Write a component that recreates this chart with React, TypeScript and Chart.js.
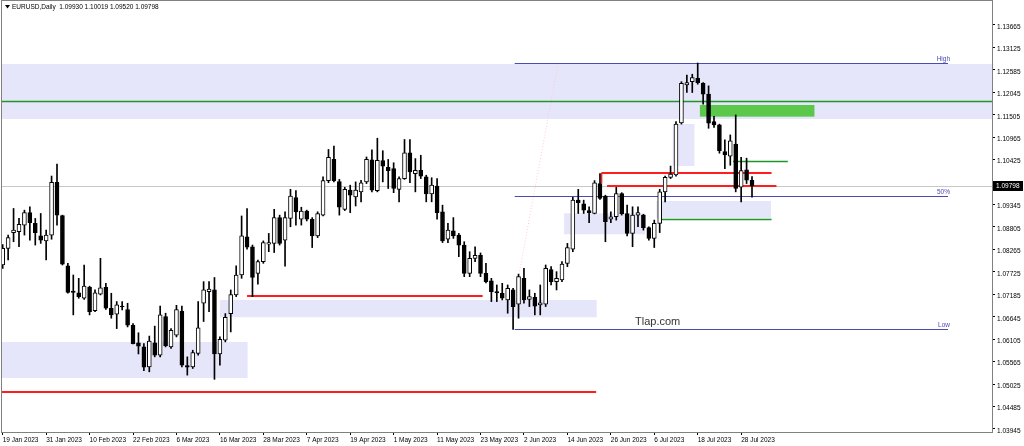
import { useEffect, useRef } from "react";
import { Chart, registerables } from "chart.js";

Chart.register(...registerables);

// x axis: one tick every 8 bars
const tickIdx = [0, 8, 16, 24, 32, 40, 48, 56, 64, 72, 80, 88, 96, 104, 112, 120, 128, 136];
const tickLabels = [
  "19 Jan 2023", "31 Jan 2023", "10 Feb 2023", "22 Feb 2023", "6 Mar 2023", "16 Mar 2023",
  "28 Mar 2023", "7 Apr 2023", "19 Apr 2023", "1 May 2023", "11 May 2023", "23 May 2023",
  "2 Jun 2023", "14 Jun 2023", "26 Jun 2023", "6 Jul 2023", "18 Jul 2023", "28 Jul 2023",
];

const yTicks = [
  1.13665, 1.13125, 1.12585, 1.12045, 1.11505, 1.10965, 1.10425, 1.09885, 1.09345, 1.08805,
  1.08265, 1.07725, 1.07185, 1.06645, 1.06105, 1.05565, 1.05025, 1.04485, 1.03945,
];

// daily EURUSD, 19 Jan 2023 .. 1 Aug 2023
const opens = [
  1.0789, 1.0829, 1.0867, 1.0869, 1.0885, 1.0915, 1.0889, 1.0859, 1.0847, 1.0861,
  1.0988, 1.0908, 1.0787, 1.0726, 1.0722, 1.0709, 1.0736, 1.0679, 1.0719, 1.0735,
  1.0685, 1.0671, 1.0690, 1.0682, 1.0644, 1.0602, 1.0592, 1.0544, 1.0602, 1.0572,
  1.0665, 1.0592, 1.0620, 1.0678, 1.0547, 1.0544, 1.0576, 1.0697, 1.0725, 1.0729,
  1.0575, 1.0608, 1.0672, 1.0717, 1.0765, 1.0857, 1.0833, 1.0769, 1.0797, 1.0839,
  1.0841, 1.0903, 1.0849, 1.0901, 1.0951, 1.0899, 1.0919, 1.0899, 1.0859, 1.0909,
  1.0992, 1.1043, 1.0990, 1.0923, 1.0969, 1.0953, 1.0965, 1.0989, 1.1042, 1.0968,
  1.1040, 1.1024, 1.1021, 1.0971, 1.0997, 1.1059, 1.1009, 1.1017, 1.1001, 1.0960,
  1.0979, 1.0917, 1.0851, 1.0871, 1.0861, 1.0837, 1.0769, 1.0805, 1.0812, 1.0769,
  1.0751, 1.0725, 1.0721, 1.0705, 1.0729, 1.0695, 1.0757, 1.0706, 1.0711, 1.0693,
  1.0695, 1.0778, 1.0749, 1.0753, 1.0793, 1.0827, 1.0945, 1.0936, 1.0920, 1.0913,
  1.0985, 1.0955, 1.0899, 1.0905, 1.0961, 1.0913, 1.0865, 1.0909, 1.0909, 1.0879,
  1.0853, 1.0889, 1.0965, 1.1000, 1.1006, 1.1131, 1.1222, 1.1230, 1.1238, 1.1226,
  1.1200, 1.1134, 1.1126, 1.1062, 1.1051, 1.1080, 1.0976, 1.1018, 1.0993,
];
const highs = [
  1.0838, 1.0861, 1.0925, 1.0901, 1.0921, 1.0929, 1.0901, 1.0913, 1.0873, 1.1003,
  1.1032, 1.0909, 1.0793, 1.0765, 1.0757, 1.0789, 1.0738, 1.0729, 1.0805, 1.0745,
  1.0721, 1.0701, 1.0701, 1.0697, 1.0648, 1.0626, 1.0600, 1.0618, 1.0642, 1.0690,
  1.0673, 1.0636, 1.0692, 1.0690, 1.0568, 1.0584, 1.0701, 1.0749, 1.0749, 1.0759,
  1.0616, 1.0672, 1.0729, 1.0787, 1.0907, 1.0925, 1.0837, 1.0801, 1.0847, 1.0865,
  1.0923, 1.0909, 1.0917, 1.0971, 1.0968, 1.0928, 1.0921, 1.0903, 1.0917, 1.1001,
  1.1067, 1.1075, 1.0995, 1.0976, 1.0981, 1.0989, 1.0993, 1.1049, 1.1066, 1.1094,
  1.1064, 1.1043, 1.1035, 1.1001, 1.1091, 1.1091, 1.1045, 1.1053, 1.1005, 1.0999,
  1.0997, 1.0933, 1.0889, 1.0903, 1.0865, 1.0845, 1.0821, 1.0833, 1.0818, 1.0793,
  1.0757, 1.0741, 1.0745, 1.0741, 1.0733, 1.0767, 1.0781, 1.0729, 1.0721, 1.0741,
  1.0789, 1.0785, 1.0773, 1.0797, 1.0841, 1.0952, 1.0971, 1.0945, 1.0929, 1.0992,
  1.1009, 1.0957, 1.0917, 1.0976, 1.0963, 1.0933, 1.0929, 1.0929, 1.0911, 1.0881,
  1.0897, 1.0971, 1.1003, 1.1027, 1.1134, 1.1230, 1.1246, 1.1248, 1.1275, 1.1228,
  1.1220, 1.1147, 1.1128, 1.1090, 1.1102, 1.1150, 1.1048, 1.1046, 1.10019,
];
const lows = [
  1.0781, 1.0801, 1.0845, 1.0833, 1.0861, 1.0849, 1.0837, 1.0841, 1.0801, 1.0851,
  1.0885, 1.0789, 1.0721, 1.0669, 1.0709, 1.0706, 1.0669, 1.0677, 1.0717, 1.0682,
  1.0661, 1.0636, 1.0681, 1.0640, 1.0599, 1.0575, 1.0535, 1.0532, 1.0568, 1.0568,
  1.0592, 1.0588, 1.0616, 1.0544, 1.0524, 1.0540, 1.0572, 1.0653, 1.0677, 1.0514,
  1.0548, 1.0604, 1.0628, 1.0713, 1.0757, 1.0827, 1.0713, 1.0743, 1.0793, 1.0821,
  1.0819, 1.0837, 1.0786, 1.0881, 1.0885, 1.0885, 1.0895, 1.0831, 1.0855, 1.0907,
  1.0987, 1.0989, 1.0909, 1.0920, 1.0915, 1.0931, 1.0941, 1.0985, 1.0965, 1.0965,
  1.0989, 1.0973, 1.0963, 1.0941, 1.0995, 1.0987, 1.0965, 1.0997, 1.0941, 1.0941,
  1.0899, 1.0843, 1.0843, 1.0853, 1.0809, 1.0761, 1.0761, 1.0797, 1.0761, 1.0746,
  1.0701, 1.0701, 1.0705, 1.0673, 1.0634, 1.0661, 1.0697, 1.0689, 1.0669, 1.0669,
  1.0689, 1.0741, 1.0729, 1.0749, 1.0785, 1.0821, 1.0913, 1.0913, 1.0891, 1.0912,
  1.0947, 1.0845, 1.0891, 1.0897, 1.0909, 1.0859, 1.0833, 1.0881, 1.0873, 1.0849,
  1.0831, 1.0867, 1.0941, 1.0997, 1.1003, 1.1128, 1.1204, 1.1204, 1.1224, 1.1176,
  1.1118, 1.1120, 1.1058, 1.1021, 1.1029, 1.0965, 1.0941, 1.0985, 1.0952,
];
const closes = [
  1.0829, 1.0855, 1.0873, 1.0887, 1.0915, 1.0891, 1.0867, 1.0849, 1.0861, 1.0988,
  1.0909, 1.0791, 1.0723, 1.0723, 1.0713, 1.0738, 1.0677, 1.0722, 1.0734, 1.0685,
  1.0669, 1.0693, 1.0688, 1.0644, 1.0600, 1.0594, 1.0543, 1.0606, 1.0572, 1.0669,
  1.0595, 1.0632, 1.0682, 1.0548, 1.0543, 1.0578, 1.0638, 1.0729, 1.0731, 1.0575,
  1.0610, 1.0663, 1.0718, 1.0765, 1.0859, 1.0832, 1.0759, 1.0797, 1.0843, 1.0843,
  1.0903, 1.0841, 1.0903, 1.0955, 1.0917, 1.0919, 1.0899, 1.0859, 1.0913, 1.0992,
  1.1048, 1.0992, 1.0928, 1.0971, 1.0957, 1.0969, 1.0987, 1.1043, 1.0969, 1.1041,
  1.1027, 1.1016, 1.0973, 1.0997, 1.1059, 1.1013, 1.1017, 1.1003, 1.0960, 1.0981,
  1.0915, 1.0847, 1.0873, 1.0859, 1.0837, 1.0769, 1.0805, 1.0812, 1.0769, 1.0749,
  1.0725, 1.0722, 1.0709, 1.0733, 1.0689, 1.0761, 1.0705, 1.0713, 1.0690, 1.0698,
  1.0781, 1.0749, 1.0757, 1.0791, 1.0831, 1.0945, 1.0939, 1.0921, 1.0915, 1.0987,
  1.0949, 1.0893, 1.0905, 1.0961, 1.0912, 1.0865, 1.0909, 1.0915, 1.0879, 1.0853,
  1.0889, 1.0965, 1.1000, 1.1008, 1.1128, 1.1226, 1.1228, 1.1240, 1.1228, 1.1200,
  1.1130, 1.1126, 1.1064, 1.1054, 1.1088, 1.0973, 1.1016, 1.0993, 1.09798,
];

// chart objects, in bar index / price: [from, to, top, bottom]
const zoneBoxes = [
  [-1, 200, 1.12727, 1.11403],
  [-1, 45.1, 1.06037, 1.05171],
  [40, 109.4, 1.07048, 1.06632],
  [103.4, 118.3, 1.09134, 1.08629],
  [120.4, 141.5, 1.0943, 1.09014],
  [123.4, 127.4, 1.11283, 1.10272],
];
const greenBox = [128.4, 149.5, 1.1174, 1.11459];
// [from, to, price]
const redLevels = [
  [-1, 109.3, 1.04834],
  [45, 88.4, 1.07152],
  [110.3, 141.6, 1.10111],
  [111.3, 142.5, 1.09784],
];
const greenLevels = [
  [-1, 200, 1.11836],
  [134.5, 144.6, 1.10393],
  [121, 141.6, 1.09004],
];
const fibNames = ["High", "50%", "Low"];
const fibPrices = [1.12743, 1.09543, 1.06343];
const fibRange = [94.3, 174.1];
const fibTrend = [94.9, 1.07529, 102.3, 1.12743];
const lastPrice = 1.09798;
const header = "EURUSD,Daily  1.09930 1.10019 1.09520 1.09798";

const FONT = "'Liberation Sans', Arial, sans-serif";

const objectsPlugin = {
  id: "mtObjects",
  beforeDatasetsDraw(chart: any) {
    const { ctx, chartArea: a, scales } = chart;
    const px = (v: number) => scales.x.getPixelForValue(v);
    const py = (v: number) => scales.y.getPixelForValue(v);
    const hline = (x1: number, x2: number, v: number, color: string, w: number) => {
      const y = w % 2 ? Math.round(py(v)) + 0.5 : Math.round(py(v));
      ctx.strokeStyle = color;
      ctx.lineWidth = w;
      ctx.beginPath();
      ctx.moveTo(px(x1), y);
      ctx.lineTo(px(x2), y);
      ctx.stroke();
    };
    ctx.save();
    ctx.beginPath();
    ctx.rect(a.left, a.top, a.width, a.height);
    ctx.clip();

    ctx.fillStyle = "#E6E6FA";
    zoneBoxes.forEach(([x1, x2, t, b]) => {
      ctx.fillRect(px(x1), py(t), px(x2) - px(x1), py(b) - py(t));
    });
    ctx.fillStyle = "#5BC84B";
    ctx.fillRect(px(greenBox[0]), py(greenBox[2]), px(greenBox[1]) - px(greenBox[0]), py(greenBox[3]) - py(greenBox[2]));

    hline(-1, 200, lastPrice, "#C8C8C8", 1);

    // fibo trend line
    ctx.save();
    ctx.setLineDash([1, 2]);
    ctx.strokeStyle = "#FFC8D2";
    ctx.lineWidth = 1;
    ctx.beginPath();
    ctx.moveTo(px(fibTrend[0]), py(fibTrend[1]));
    ctx.lineTo(px(fibTrend[2]), py(fibTrend[3]));
    ctx.stroke();
    ctx.restore();

    fibPrices.forEach((v) => hline(fibRange[0], fibRange[1], v, "#4B4BB4", 1));
    greenLevels.forEach(([x1, x2, v]) => hline(x1, x2, v, "#1E9628", 1.5));
    redLevels.forEach(([x1, x2, v]) => hline(x1, x2, v, "#FF1E1E", 2));
    // short vertical at start of upper red level
    ctx.strokeStyle = "#FF1E1E";
    ctx.lineWidth = 1.5;
    ctx.beginPath();
    ctx.moveTo(px(redLevels[2][0]), py(redLevels[2][2]));
    ctx.lineTo(px(redLevels[2][0]), py(1.09856));
    ctx.stroke();
    ctx.restore();
  },
  afterDraw(chart: any) {
    const { ctx, chartArea: a, scales } = chart;
    const px = (v: number) => scales.x.getPixelForValue(v);
    const py = (v: number) => scales.y.getPixelForValue(v);
    ctx.save();
    // frame
    ctx.strokeStyle = "#808080";
    ctx.lineWidth = 1;
    ctx.strokeRect(a.left - 0.5, a.top - 0.5, a.width + 1, a.height + 1);

    // fibo labels
    ctx.fillStyle = "#4B4BB4";
    ctx.font = `6.5px ${FONT}`;
    ctx.textAlign = "right";
    ctx.textBaseline = "bottom";
    fibNames.forEach((n, i) => ctx.fillText(n, px(fibRange[1]) + 2, py(fibPrices[i]) - 1));

    // watermark
    ctx.fillStyle = "#333";
    ctx.font = `11px ${FONT}`;
    ctx.textAlign = "left";
    ctx.textBaseline = "alphabetic";
    ctx.fillText("Tlap.com", 635, 325);

    // header
    ctx.fillStyle = "#000";
    ctx.beginPath();
    ctx.moveTo(5, 5);
    ctx.lineTo(10, 5);
    ctx.lineTo(7.5, 8.5);
    ctx.closePath();
    ctx.fill();
    ctx.font = `6.5px ${FONT}`;
    ctx.textBaseline = "middle";
    ctx.fillText(header, 12, 7);

    // price marker
    const y = Math.round(py(lastPrice));
    ctx.fillStyle = "#000";
    ctx.fillRect(a.right + 1, y - 5, 30, 10);
    ctx.fillStyle = "#fff";
    ctx.font = `6.5px ${FONT}`;
    ctx.textBaseline = "middle";
    ctx.fillText(lastPrice.toFixed(5), a.right + 4, y + 0.5);
    ctx.restore();
  },
};

export default function App() {
  const canvasRef = useRef<HTMLCanvasElement | null>(null);

  useEffect(() => {
    document.body.style.margin = "0";
    const ctx = canvasRef.current?.getContext("2d");
    if (!ctx) return;

    const wicks = highs.map((h, i) => ({ x: i, y: [lows[i], h] }));
    const bodies = opens.map((o, i) => ({ x: i, y: [o, closes[i]] }));

    const chart = new Chart(ctx, {
      type: "bar",
      data: {
        datasets: [
          {
            data: wicks as any,
            grouped: false,
            maxBarThickness: 1,
            barPercentage: 1,
            categoryPercentage: 1,
            backgroundColor: "#000",
            borderWidth: 0,
            order: 2,
          },
          {
            data: bodies as any,
            grouped: false,
            maxBarThickness: 4,
            barPercentage: 1,
            categoryPercentage: 1,
            backgroundColor: (c: any) => {
              const d = c.raw;
              return d && d.y[1] >= d.y[0] ? "#fff" : "#000";
            },
            borderColor: "#000",
            borderWidth: 1,
            borderSkipped: false,
            minBarLength: 1,
            order: 1,
          },
        ],
      },
      options: {
        animation: false,
        responsive: false,
        events: [],
        layout: { padding: { left: 2, top: 1, right: 0, bottom: 0 } },
        plugins: { legend: { display: false }, tooltip: { enabled: false } },
        scales: {
          x: {
            type: "linear",
            min: -0.13,
            max: 182.2,
            offset: false,
            grid: { offset: false, drawOnChartArea: false, drawTicks: true, tickLength: 3, color: "#000" },
            border: { display: false },
            afterBuildTicks: (s: any) => {
              s.ticks = tickIdx.map((v) => ({ value: v }));
            },
            afterFit: (s: any) => {
              s.height = 14;
              s.paddingLeft = 0;
              s.paddingRight = 0;
            },
            ticks: {
              autoSkip: false,
              maxRotation: 0,
              align: "start",
              padding: 1,
              color: "#000",
              font: { family: FONT, size: 6.5 },
              callback: (v: any) => tickLabels[tickIdx.indexOf(Number(v))] ?? "",
            },
          },
          y: {
            type: "linear",
            position: "right",
            min: 1.03872,
            max: 1.14242,
            beginAtZero: false,
            grid: { drawOnChartArea: false, drawTicks: true, tickLength: 3, color: "#000" },
            border: { display: false },
            afterBuildTicks: (s: any) => {
              s.ticks = yTicks.map((v) => ({ value: v }));
            },
            afterFit: (s: any) => {
              s.width = 32;
              s.paddingTop = 0;
              s.paddingBottom = 0;
            },
            ticks: {
              autoSkip: false,
              padding: 2,
              labelOffset: 2,
              color: "#000",
              font: { family: FONT, size: 6.5 },
              callback: (v: any) => Number(v).toFixed(5),
            },
          },
        },
      },
      plugins: [objectsPlugin],
    });

    return () => {
      chart.destroy();
    };
  }, []);

  return (
    <div style={{ width: 1024, height: 446 }}>
      <canvas ref={canvasRef} width={1024} height={446} style={{ display: "block" }} />
    </div>
  );
}
